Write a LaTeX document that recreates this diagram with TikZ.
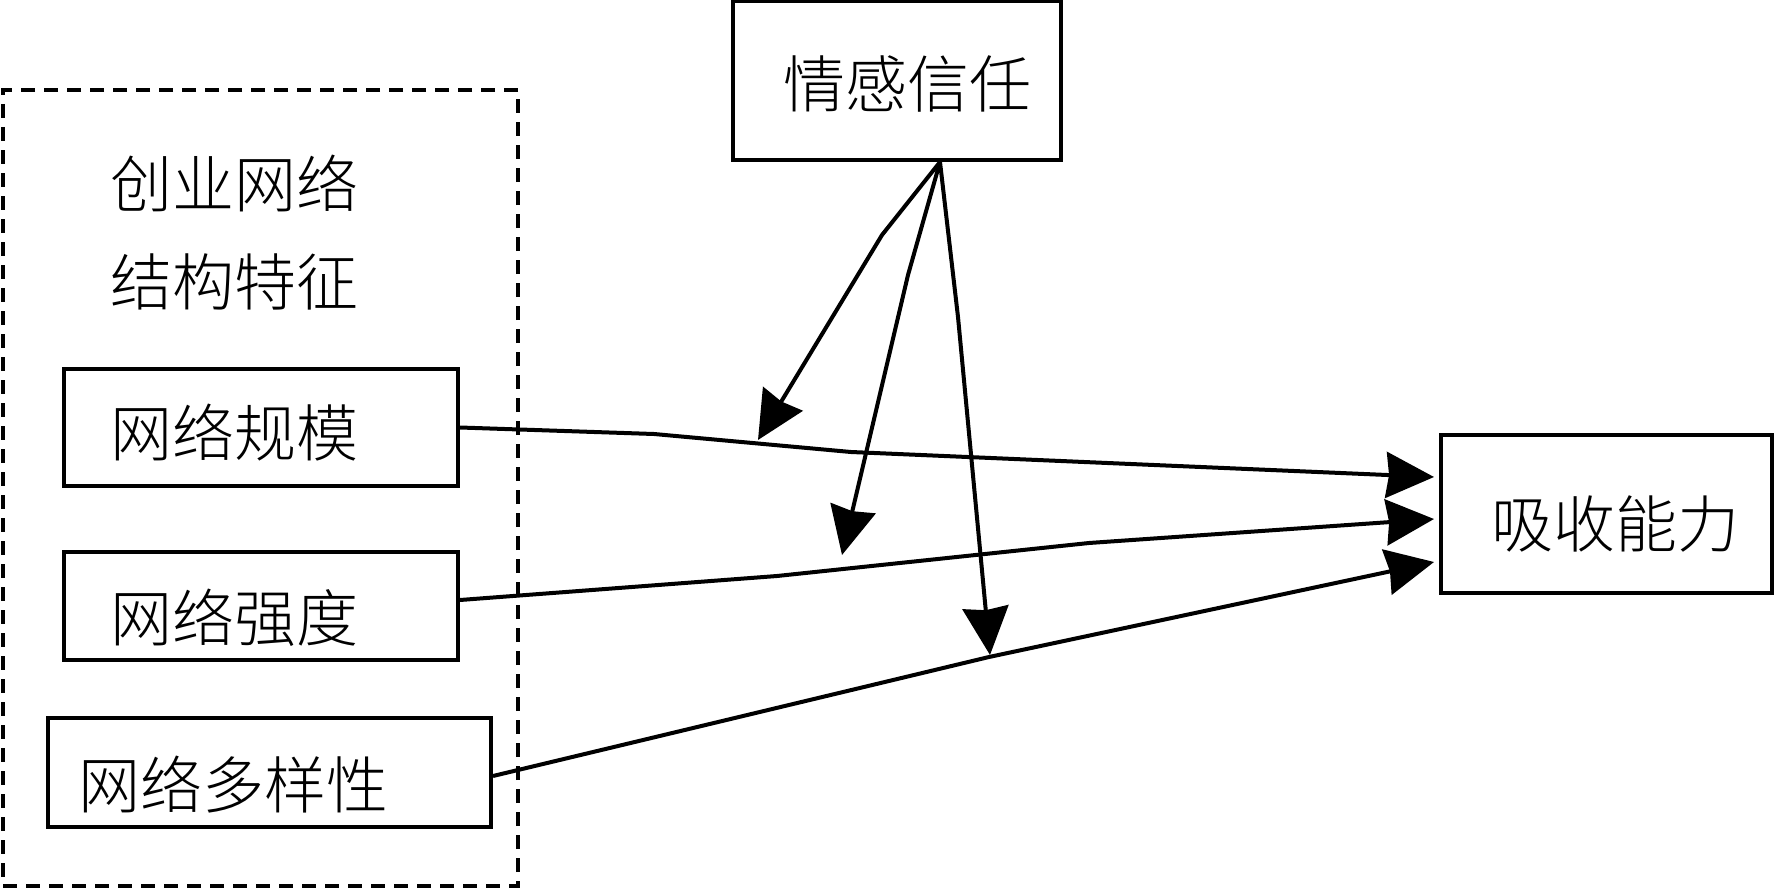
\documentclass[tikz,border=0pt]{standalone}
\usepackage{fontspec}
\newfontfamily\cjk{Noto Sans CJK SC Light}[LetterSpace=0]
\usetikzlibrary{arrows.meta,calc}
\begin{document}
\begin{tikzpicture}[x=1pt,y=-1pt,
  box/.style={draw,line width=4pt,inner sep=0pt},
  lbl/.style={font=\fontsize{62}{66}\selectfont\cjk,inner sep=0pt,anchor=center},
  conn/.style={line width=4pt,line join=round,-{Stealth[length=48pt,width=46pt,inset=3pt]}},
  group/.style={draw,line width=3.6pt,dash pattern=on 14pt off 9pt,inner sep=0pt}]
\useasboundingbox (0,0) rectangle (1775,888);
\fill[white] (0,0) rectangle (1775,888);
% group frame
\node[group,minimum width=515pt,minimum height=796pt] (grp) at (260.5,488) {};
% boxes
\node[box,minimum width=328pt,minimum height=158.5pt] (qg) at (896.7,80.75) {};
\node[box,minimum width=331pt,minimum height=158pt] (xs) at (1606,514) {};
\node[box,minimum width=394pt,minimum height=117pt] (gm) at (261,427.5) {};
\node[box,minimum width=394pt,minimum height=108pt] (qd) at (261,606) {};
\node[box,minimum width=443pt,minimum height=109pt] (dy) at (269.5,772.5) {};
% texts
\node[lbl] (tqg) at (907,84) {情感信任};
\node[lbl] (tg1) at (234,183) {创业网络};
\node[lbl] (tg2) at (234,282) {结构特征};
\node[lbl] (tgm) at (234,433) {网络规模};
\node[lbl] (tqd) at (234,618) {网络强度};
\node[lbl] (tdy) at (233,785) {网络多样性};
\node[lbl] (txs) at (1615,524) {吸收能力};
% bend points
\coordinate (a1) at (654,434);
\coordinate (a2) at (851,452);
\coordinate (b1) at (777,576);
\coordinate (b2) at (1089,543);
\coordinate (c1) at (989,657);
\coordinate (fo) at ($(qg.south)+(43.3,0)$);
\coordinate (f1) at (882,235);
\coordinate (f2) at (908,275);
\coordinate (f3) at (958,317);
% ends
\coordinate (e1) at ($(xs.west)+(-4.5,-37)$);
\coordinate (e2) at ($(xs.west)+(-4.5,5)$);
\coordinate (e3) at ($(xs.west)+(-4.5,48)$);
\coordinate (g1) at (758,440);
\coordinate (g2) at (842,555);
\coordinate (g3) at (990,655);
% connectors to absorptive capacity
\draw[conn] (gm.east) -- (a1) -- (a2) -- (e1);
\draw[conn] ($(qd.east)+(0,-6)$) -- (b1) -- (b2) -- (e2);
\draw[conn] ($(dy.east)+(0,3.5)$) -- (c1) -- (e3);
% moderating arrows
\draw[conn] (fo) -- (f1) -- (g1);
\draw[conn] (fo) -- (f2) -- (g2);
\draw[conn] (fo) -- (f3) -- (g3);
\end{tikzpicture}
\end{document}
